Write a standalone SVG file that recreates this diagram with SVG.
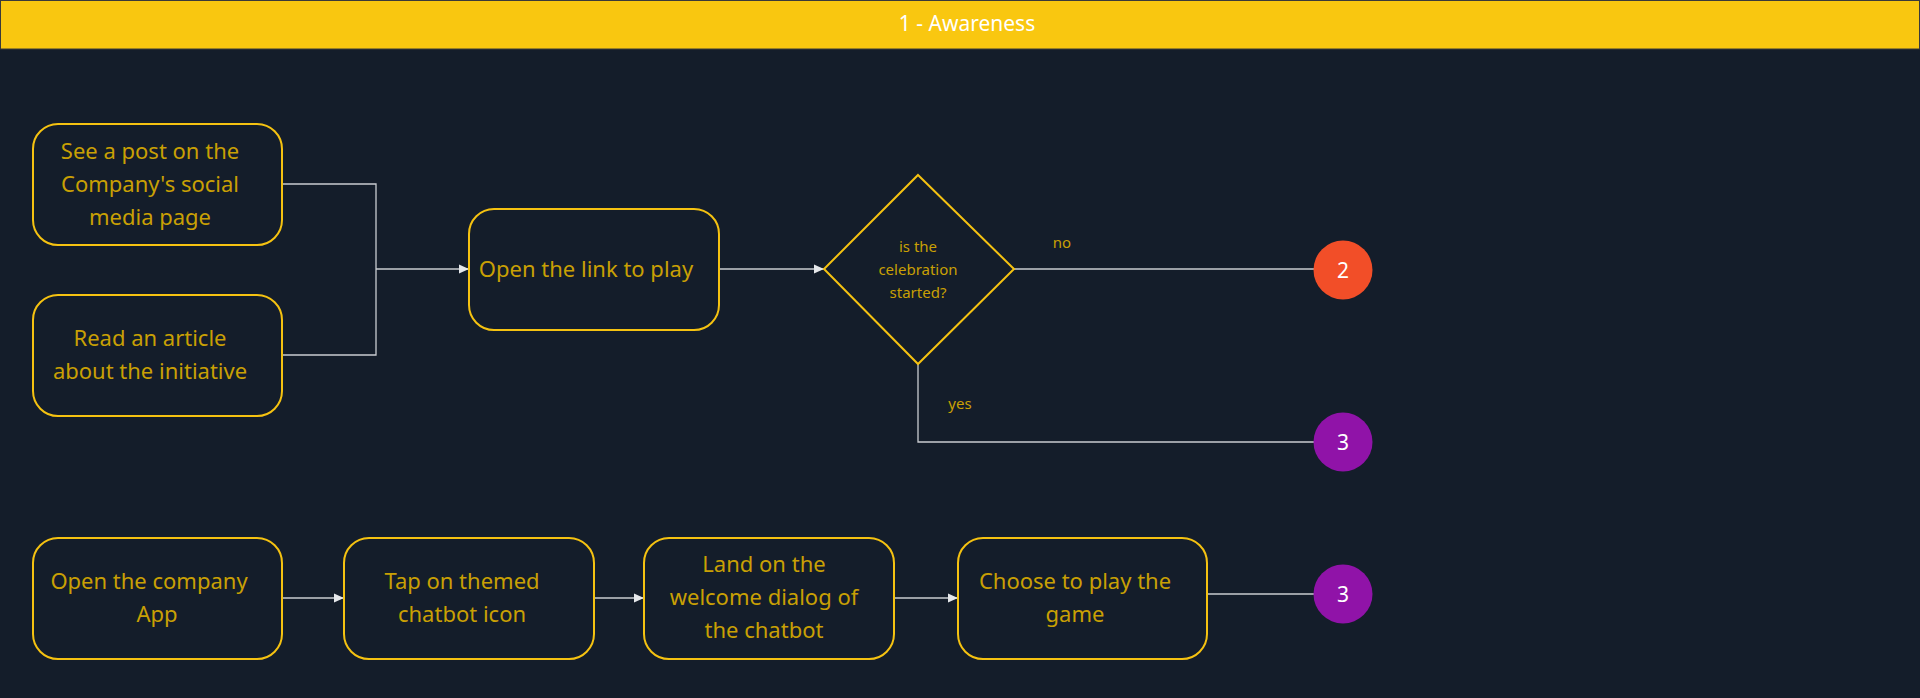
<svg xmlns="http://www.w3.org/2000/svg" width="1920" height="698" viewBox="0 0 1920 698">
<defs>
<style>
.bg{fill:#141d2a}
.box{fill:#141d2a;stroke:#f5c211;stroke-width:2}
.t{font-family:"Noto Sans","Open Sans",sans-serif;font-size:22px;fill:#c9a004;text-anchor:middle}
.ts{font-family:"Noto Sans","Open Sans",sans-serif;font-size:15px;fill:#c9a004;text-anchor:middle}
.c{fill:none;stroke:#c9ccd1;stroke-width:1.3}
.ct{font-family:"Noto Sans","Open Sans",sans-serif;font-size:21px;fill:#ffffff;text-anchor:middle}
</style>
<marker id="ah" markerWidth="10" markerHeight="10" refX="10" refY="5" orient="auto" markerUnits="userSpaceOnUse">
<path d="M0,0.5 L10,5 L0,9.5 Z" fill="#e6e8eb"/>
</marker>
</defs>
<rect class="bg" x="0" y="0" width="1920" height="698"/>
<g id="header">
<rect x="0.5" y="0.5" width="1919" height="48.5" fill="#f9c710" stroke="#3a3a3a" stroke-width="1"/>
<text class="ct" x="967" y="31" font-size="21">1 - Awareness</text>
</g>
<g id="connectors">
<path class="c" d="M282,184 H376 V355 H282"/>
<path class="c" d="M376,269 H469" marker-end="url(#ah)"/>
<path class="c" d="M719,269 H824" marker-end="url(#ah)"/>
<path class="c" d="M1014,269 H1314"/>
<path class="c" d="M918,364 V442 H1314"/>
<path class="c" d="M282,598 H344" marker-end="url(#ah)"/>
<path class="c" d="M594,598 H644" marker-end="url(#ah)"/>
<path class="c" d="M894,598 H958" marker-end="url(#ah)"/>
<path class="c" d="M1207,594 H1314"/>
<text class="ts" x="1062" y="248">no</text>
<text class="ts" x="960" y="409">yes</text>
</g>
<g id="n1">
<rect class="box" x="33" y="124" width="249" height="121" rx="25"/>
<text class="t" x="150" y="159">See a post on the</text>
<text class="t" x="150" y="192">Company's social</text>
<text class="t" x="150" y="225">media page</text>
</g>
<g id="n2">
<rect class="box" x="33" y="295" width="249" height="121" rx="25"/>
<text class="t" x="150" y="346">Read an article</text>
<text class="t" x="150" y="379">about the initiative</text>
</g>
<g id="n3">
<rect class="box" x="469" y="209" width="250" height="121" rx="25"/>
<text class="t" x="586" y="277">Open the link to play</text>
</g>
<g id="d1">
<path d="M918,175 L1014,269 L918,364 L824,269 Z" fill="#141d2a" stroke="#f5c211" stroke-width="2"/>
<text class="ts" x="918" y="252">is the</text>
<text class="ts" x="918" y="275">celebration</text>
<text class="ts" x="918" y="298">started?</text>
</g>
<g id="c2">
<circle cx="1343" cy="270" r="29.5" fill="#f24e28"/>
<text class="ct" x="1343" y="278">2</text>
</g>
<g id="c3a">
<circle cx="1343" cy="442" r="29.5" fill="#9013a8"/>
<text class="ct" x="1343" y="450">3</text>
</g>
<g id="n4">
<rect class="box" x="33" y="538" width="249" height="121" rx="25"/>
<text class="t" x="149" y="589">Open the company</text>
<text class="t" x="157" y="622">App</text>
</g>
<g id="n5">
<rect class="box" x="344" y="538" width="250" height="121" rx="25"/>
<text class="t" x="462" y="589">Tap on themed</text>
<text class="t" x="462" y="622">chatbot icon</text>
</g>
<g id="n6">
<rect class="box" x="644" y="538" width="250" height="121" rx="25"/>
<text class="t" x="764" y="572">Land on the</text>
<text class="t" x="764" y="605">welcome dialog of</text>
<text class="t" x="764" y="638">the chatbot</text>
</g>
<g id="n7">
<rect class="box" x="958" y="538" width="249" height="121" rx="25"/>
<text class="t" x="1075" y="589">Choose to play the</text>
<text class="t" x="1075" y="622">game</text>
</g>
<g id="c3b">
<circle cx="1343" cy="594" r="29.5" fill="#9013a8"/>
<text class="ct" x="1343" y="602">3</text>
</g>
</svg>
